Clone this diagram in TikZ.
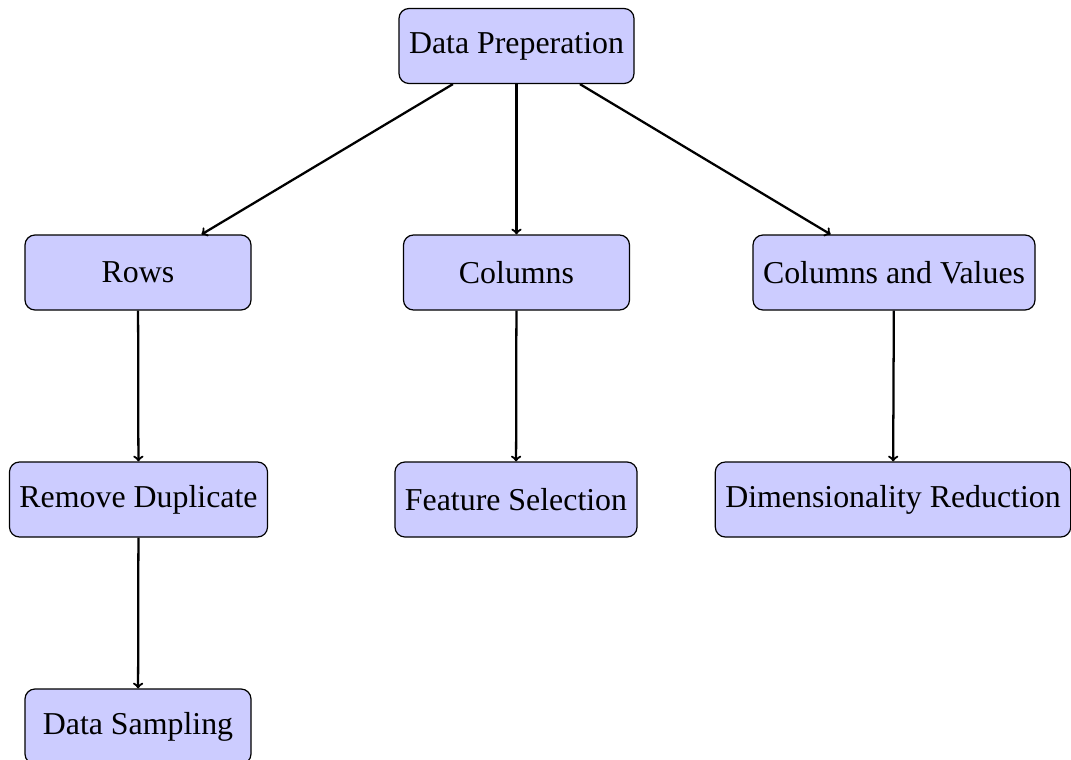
\documentclass[tikz,border=0pt]{standalone}
\usepackage{fontspec}
\setmainfont{Liberation Serif}
\begin{document}
\begin{tikzpicture}[x=0.75pt,y=-0.75pt,
  box/.style={draw=black, line width=0.9pt, fill=blue!20, rounded corners=7.5pt,
    minimum width=169.5pt, minimum height=56.25pt, inner xsep=7.5pt,
    font=\fontsize{23.9}{28}\selectfont},
  link/.style={->, line width=1.7pt}]
\useasboundingbox (0,0) rectangle (1071,760);

% top level
\node[box] (prep) at (516.5,46) {Data Preperation};

% second level
\node[box] (rows) at (138,272.5) {Rows};
\node[box] (cols) at (516.5,272.5) {Columns};
\node[box] (colval) at (894,272.5) {Columns and Values};

% third level
\node[box] (dup) at (138.5,499.5) {Remove Duplicate};
\node[box] (feat) at (516,499.5) {Feature Selection};
\node[box] (dim) at (893,499.5) {Dimensionality Reduction};

% fourth level
\node[box] (samp) at (138,726.5) {Data Sampling};

\draw[link] (prep) -- (rows);
\draw[link] (prep) -- (cols);
\draw[link] (prep) -- (colval);
\draw[link] (rows) -- (dup);
\draw[link] (cols) -- (feat);
\draw[link] (colval) -- (dim);
\draw[link] (dup) -- (samp);
\end{tikzpicture}
\end{document}
